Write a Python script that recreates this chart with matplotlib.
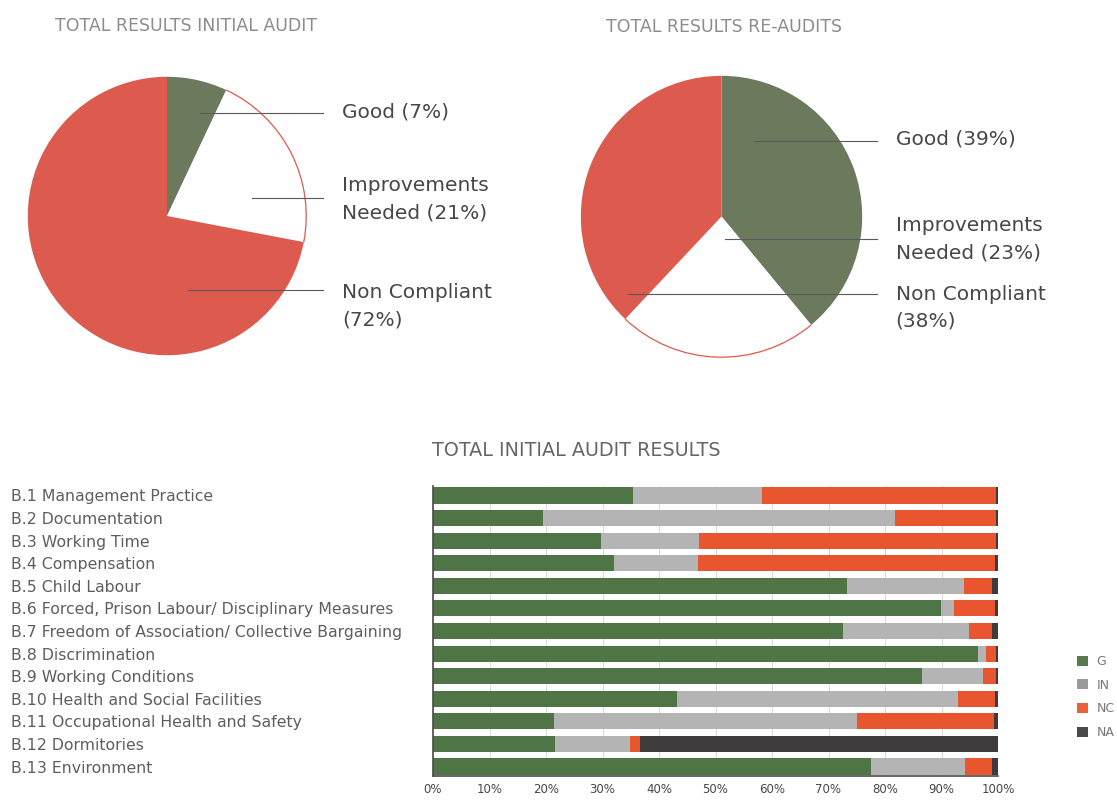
import numpy as np
import matplotlib
matplotlib.use("Agg")
import matplotlib.pyplot as plt
from matplotlib.patches import Arc, Patch

plt.rcParams['font.family'] = ['DejaVu Sans']

# pie data (percent)
pie_labels = ["Good", "Improvements\nNeeded", "Non Compliant\n"]
initial_pie = [7, 21, 72]
reaudit_pie = [39, 23, 38]

# bar data (percent per category)
categories = [
    "B.1 Management Practice",
    "B.2 Documentation",
    "B.3 Working Time",
    "B.4 Compensation",
    "B.5 Child Labour",
    "B.6 Forced, Prison Labour/ Disciplinary Measures",
    "B.7 Freedom of Association/ Collective Bargaining",
    "B.8 Discrimination",
    "B.9 Working Conditions",
    "B.10 Health and Social Facilities",
    "B.11 Occupational Health and Safety",
    "B.12 Dormitories",
    "B.13 Environment",
]
g_vals = [35.4, 19.5, 29.7, 32.0, 73.2, 89.9, 72.5, 96.4, 86.5, 43.2, 21.4, 21.6, 77.5]
in_vals = [22.8, 62.3, 17.4, 14.9, 20.8, 2.3, 22.4, 1.5, 10.8, 49.7, 53.6, 13.2, 16.7]
nc_vals = [41.5, 17.9, 52.5, 52.6, 5.0, 7.3, 4.1, 1.8, 2.3, 6.6, 24.3, 1.8, 4.7]
na_vals = [0.3, 0.3, 0.4, 0.5, 1.0, 0.5, 1.0, 0.3, 0.4, 0.5, 0.7, 63.4, 1.1]
series_names = ["G", "IN", "NC", "NA"]
x_ticks = [0, 10, 20, 30, 40, 50, 60, 70, 80, 90, 100]

W, H = 1117, 800
fig = plt.figure(figsize=(W / 100, H / 100), dpi=100)
fig.patch.set_facecolor("white")


def px_axes(left, top, width, height):
    return fig.add_axes([left / W, 1 - (top + height) / H, width / W, height / H])


PIE_GREEN = "#6b7a5c"
PIE_RED = "#dc5a4e"
TEXT = "#474747"


def draw_pie(ax, values, title, title_xy, lines, texts):
    wedges, _ = ax.pie(values, colors=[PIE_GREEN, "white", PIE_RED], startangle=90,
                       counterclock=False, radius=1, wedgeprops=dict(linewidth=0))
    w = wedges[1]
    ax.add_patch(Arc((0, 0), 2, 2, theta1=w.theta1, theta2=w.theta2,
                     color=PIE_RED, lw=0.9))
    ax.set_xlim(-1.02, 1.02)
    ax.set_ylim(-1.02, 1.02)
    ax.set_aspect("equal")
    ax.axis("off")
    for (x0, x1, y) in lines:
        ax.plot([x0, x1], [y, y], color="#5a5a5a", lw=0.8, clip_on=False, zorder=5)
    for (x, y), lab, v in zip(texts, pie_labels, values):
        txt = f"{lab} ({v}%)" if not lab.endswith("\n") else f"{lab}({v}%)"
        ax.text(x, y, txt, ha="left", va="center", fontsize=14.5, color=TEXT,
                linespacing=1.55, clip_on=False)
    fig.text(title_xy[0] / W, 1 - title_xy[1] / H, title, fontsize=12.5,
             color="#8c8c8c", ha="left", va="center")


ax1 = px_axes(25, 74, 284, 284)
draw_pie(ax1, initial_pie, "TOTAL RESULTS INITIAL AUDIT", (55, 26),
         [(0.237, 1.12, 0.742), (0.611, 1.12, 0.127), (0.152, 1.12, -0.53)],
         [(1.26, 0.749), (1.26, 0.12), (1.26, -0.647)])

ax2 = px_axes(578, 73, 287, 287)
draw_pie(ax2, reaudit_pie, "TOTAL RESULTS RE-AUDITS", (606, 27),
         [(0.24, 1.105, 0.537), (0.024, 1.105, -0.16), (-0.666, 1.105, -0.55)],
         [(1.237, 0.55), (1.237, -0.164), (1.237, -0.648)])

# stacked bar chart
C_G, C_IN, C_NC, C_NA = "#4f7446", "#b4b4b4", "#e8552f", "#3e3b3c"
ax3 = px_axes(433, 486, 565, 290)
y = np.arange(len(categories))
left = np.zeros(len(categories))
for vals, col, name in zip([g_vals, in_vals, nc_vals, na_vals],
                           [C_G, C_IN, C_NC, C_NA], series_names):
    ax3.barh(y, vals, left=left, height=0.71, color=col, label=name, zorder=2)
    left += np.array(vals)

ax3.set_xlim(0, 100)
ax3.set_ylim(12.42, -0.42)
ax3.set_xticks(x_ticks)
ax3.set_xticklabels([f"{t}%" for t in x_ticks], fontsize=8.5, color=TEXT)
ax3.grid(axis="x", color="#dcdcdc", lw=0.8, zorder=0)
ax3.set_axisbelow(True)
ax3.tick_params(axis="x", length=0, pad=5)
ax3.set_yticks(y)
ax3.set_yticklabels(categories, fontsize=11.3, color="#5e5e5e")
for lab in ax3.get_yticklabels():
    lab.set_ha("left")
ax3.tick_params(axis="y", length=0, pad=(433 - 11) * 0.72)
for s in ["top", "right"]:
    ax3.spines[s].set_visible(False)
for s in ["left", "bottom"]:
    ax3.spines[s].set_color("#4a4a4a")
    ax3.spines[s].set_linewidth(1.2)
fig.text(432 / W, 1 - 450 / H, "TOTAL INITIAL AUDIT RESULTS", fontsize=13.8,
         color="#666666", ha="left", va="center")

handles = [Patch(facecolor=c, edgecolor="none") for c in ["#587a4e", "#9a9a9a", "#e9603a", "#4a4a4a"]]
fig.legend(handles, series_names, loc="upper left",
           bbox_to_anchor=(1077 / W, 1 - 655 / H), frameon=False,
           handlelength=0.85, handleheight=0.85, handletextpad=0.7,
           labelspacing=0.85, fontsize=9, labelcolor="#777777",
           borderpad=0, borderaxespad=0)

fig.savefig("out.png", dpi=100)
